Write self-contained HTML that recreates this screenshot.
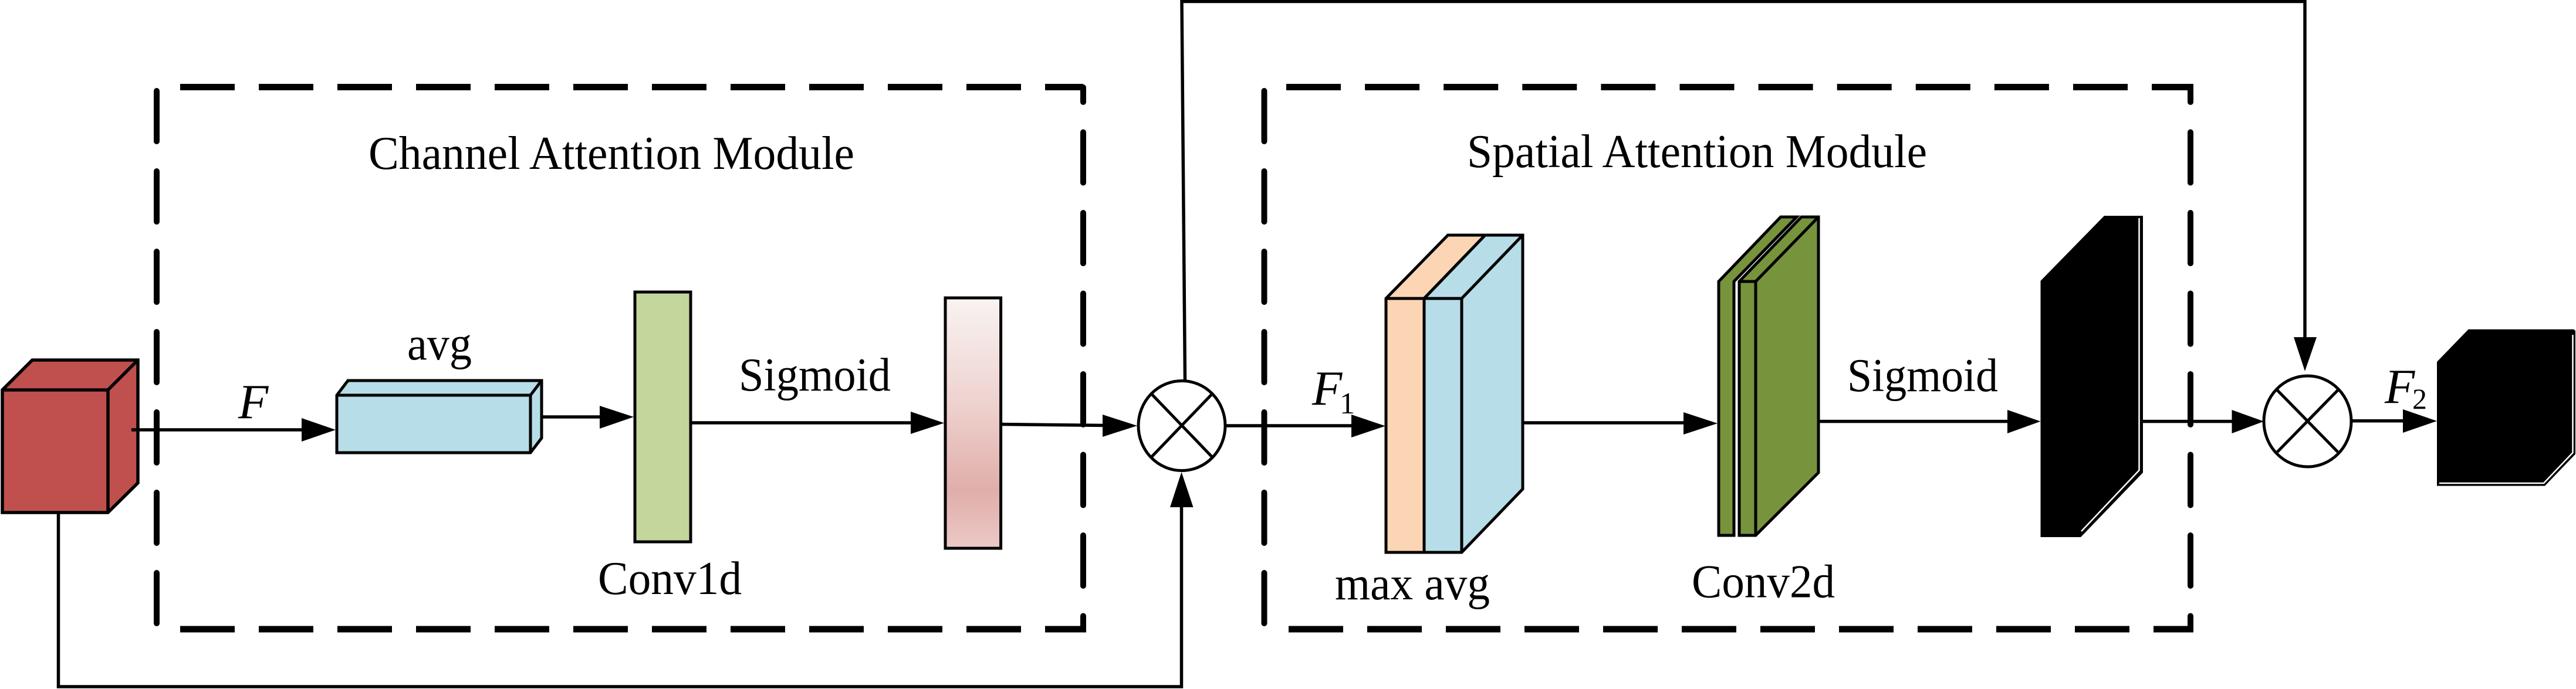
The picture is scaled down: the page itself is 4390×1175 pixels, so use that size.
<!DOCTYPE html>
<html><head><meta charset="utf-8"><title>Attention diagram</title>
<style>html,body{margin:0;padding:0;background:#fff}svg{display:block}
text{font-family:"Liberation Serif",serif;font-size:80px;fill:#000}</style></head>
<body>
<svg width="4390" height="1175" viewBox="0 0 4390 1175" xmlns="http://www.w3.org/2000/svg">
<defs>
<linearGradient id="pk" x1="0" y1="0" x2="0" y2="1">
<stop offset="0" stop-color="#f8f3f1"/><stop offset="0.4" stop-color="#efd4d1"/><stop offset="0.77" stop-color="#e0aeaa"/><stop offset="1" stop-color="#ebc9c6"/>
</linearGradient>
</defs>
<rect width="4390" height="1175" fill="#fff"/>

<!-- dashed modules -->
<g fill="none" stroke="#000" stroke-width="11">
<path d="M307,148.5H1846" stroke-dasharray="93 41"/>
<path d="M307,1073H1851" stroke-dasharray="93 41"/>
<path d="M2192,148.5H3738" stroke-dasharray="93 41.1"/>
<path d="M2196,1073H3738" stroke-dasharray="93 41"/>
</g>
<g fill="none" stroke="#000" stroke-width="10" stroke-linecap="round">
<path d="M267,155V1066" stroke-dasharray="86 51"/>
<path d="M1846,149V1073" stroke-dasharray="86 51.5" stroke-dashoffset="61"/>
<path d="M2154.5,155V1066" stroke-dasharray="86 51"/>
<path d="M3733,149V1073" stroke-dasharray="86 51.5" stroke-dashoffset="61"/>
</g>

<!-- red cube -->
<g stroke="#000" stroke-width="5.5" stroke-linejoin="miter" fill="#c0504d">
<path d="M4,665L55,614H235V823.6L184,874H4Z"/>
<path d="M4,665H184L235,614M184,665V874" fill="none"/>
</g>
<!-- lines -->
<g fill="none" stroke="#000" stroke-width="5.5">
<path d="M224,733H520"/>
<path d="M99.5,874V1171H2013.5V860"/>
<path d="M923,711H1030"/>
<path d="M1177,721H1560"/>
<path d="M1703,723.5L1885,725.5"/>
<path d="M2019.5,650L2014,2.5H3928V580"/>
<path d="M2088,726H2310"/>
<path d="M2595,721H2875"/>
<path d="M3099,718.6H3430"/>
<path d="M3652,718.6H3810"/>
<path d="M4007,717.8H4100"/>
</g>
<!-- arrowheads -->
<g fill="#000">
<path d="M572,733L514,713V753Z"/>
<path d="M1080,711L1022,692V731Z"/>
<path d="M1609,721.4L1552,702V740Z"/>
<path d="M1938,726L1879,707V745Z"/>
<path d="M2013.5,805L1994,865H2033.5Z"/>
<path d="M2361,726.5L2303,707V746Z"/>
<path d="M2927,722L2869,703V741Z"/>
<path d="M3477.5,718.6L3421,699V739Z"/>
<path d="M3858,718.6L3803.5,699V739Z"/>
<path d="M4153,718L4095,698V738Z"/>
<path d="M3928,633L3909,575H3948Z"/>
</g>

<!-- blue box -->
<g stroke="#000" stroke-width="5" fill="#b7dde8">
<path d="M574,674L593,649H923V747L904,772H574Z"/>
<path d="M574,674H904L923,649M904,674V772" fill="none"/>
</g>
<!-- green bar -->
<rect x="1082" y="498" width="95" height="426" fill="#c3d69b" stroke="#000" stroke-width="5"/>
<!-- pink bar -->
<rect x="1611" y="508" width="94.6" height="427" fill="url(#pk)" stroke="#000" stroke-width="5"/>

<!-- circles -->
<g fill="#fff" stroke="#000" stroke-width="5">
<ellipse cx="2014" cy="726" rx="74" ry="76.5"/>
<path d="M1963,672.5L2065,778.6M2065,672.5L1963,778.6" fill="none"/>
<ellipse cx="3932.5" cy="718.5" rx="74.5" ry="77.5"/>
<path d="M3881,665.5L3984,770.7M3984,665.5L3881,770.7" fill="none"/>
</g>

<!-- max/avg block -->
<g stroke="#000" stroke-width="5">
<path d="M2362,509L2467.5,401H2531L2427,509V942H2362Z" fill="#fcd5b5"/>
<path d="M2427,509L2531,401H2595V834L2491,942H2427Z" fill="#b7dde8"/>
<path d="M2427,509H2491L2595,401M2491,509V942M2362,509H2427" fill="none"/>
</g>

<!-- green double -->
<g stroke="#000" stroke-width="5" fill="#77933c">
<path d="M2929,480L3034.6,370H3062L2955,480V913H2929Z"/>
<path d="M2964,480L3070,370H3099V806L2992,913H2964Z"/>
<path d="M2964,480H2992L3099,370M2992,480V913" fill="none"/>
</g>

<!-- black block -->
<path d="M3477.5,479L3586,368H3652V806L3546,916H3477.5Z" fill="#000"/>
<path d="M3645.5,372V802L3547,906" fill="none" stroke="#fff" stroke-width="2.5"/>
<!-- black output -->
<path d="M4153,617L4206.6,561.6H4386L4389,564V774.5L4337,828.6H4153Z" fill="#000"/>
<path d="M4384.5,571V772L4335,824H4157" fill="none" stroke="#fff" stroke-width="2.5"/>

<!-- text -->
<text x="628" y="288" textLength="828" lengthAdjust="spacingAndGlyphs">Channel Attention Module</text>
<text x="2500" y="285" textLength="784" lengthAdjust="spacingAndGlyphs">Spatial Attention Module</text>
<text x="406" y="713" font-style="italic" fill="#231f20" style="font-size:84px">F</text>
<text x="694" y="613" textLength="110" lengthAdjust="spacingAndGlyphs">avg</text>
<text x="1019" y="1013" textLength="245" lengthAdjust="spacingAndGlyphs">Conv1d</text>
<text x="1259" y="666" textLength="259" lengthAdjust="spacingAndGlyphs">Sigmoid</text>
<text x="2236" y="690" font-style="italic" fill="#231f20" style="font-size:84px">F</text>
<text x="2283" y="705" style="font-size:52px">1</text>
<text x="2275" y="1022" textLength="264" lengthAdjust="spacingAndGlyphs">max avg</text>
<text x="2883" y="1018.5" textLength="244" lengthAdjust="spacingAndGlyphs">Conv2d</text>
<text x="3148" y="667" textLength="257" lengthAdjust="spacingAndGlyphs">Sigmoid</text>
<text x="4064" y="687" font-style="italic" fill="#231f20" style="font-size:84px">F</text>
<text x="4111" y="697" style="font-size:50px">2</text>
</svg>
</body></html>
